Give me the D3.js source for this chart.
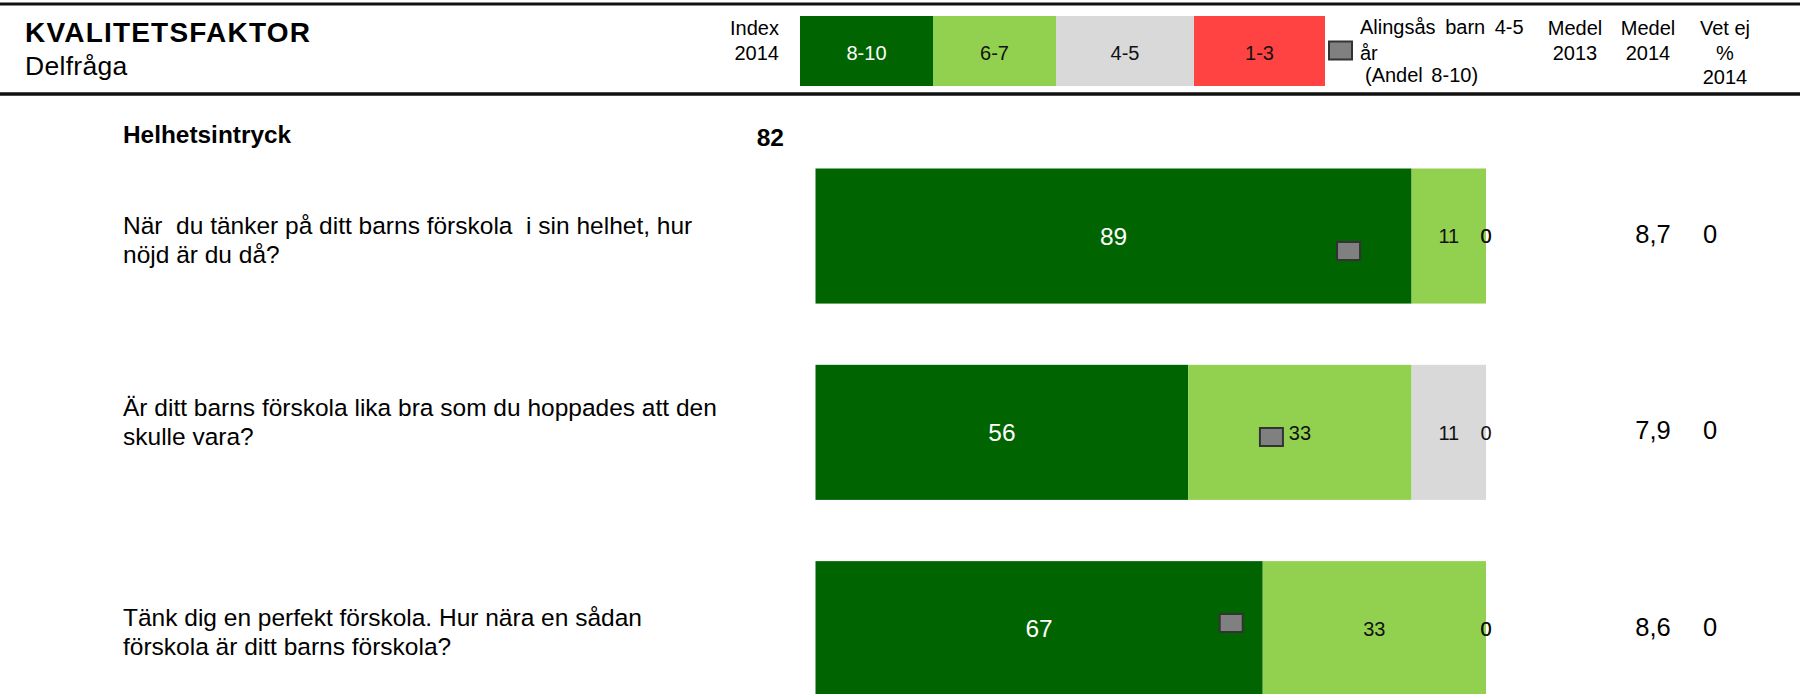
<!DOCTYPE html>
<html>
<head>
<meta charset="utf-8">
<script src="https://cdn.jsdelivr.net/npm/d3@7"></script>
<style>
  html, body { margin: 0; padding: 0; background: #fff; }
  svg text { font-family: "Liberation Sans", Arial, sans-serif; white-space: pre; }
</style>
</head>
<body>
<svg id="chart" width="1800" height="694"></svg>
<script>
// ---------- DATA ----------
const title = "KVALITETSFAKTOR";
const subtitle = "Delfråga";
const categories = ["8-10", "6-7", "4-5", "1-3"];
const categoryColors = ["#006400", "#92D050", "#D9D9D9", "#FF4343"];
const section = "Helhetsintryck";
const sectionIndex2014 = 82;
const questions = [
  ["När  du tänker på ditt barns förskola  i sin helhet, hur", "nöjd är du då?"],
  ["Är ditt barns förskola lika bra som du hoppades att den", "skulle vara?"],
  ["Tänk dig en perfekt förskola. Hur nära en sådan", "förskola är ditt barns förskola?"]
];
const share8to10 = [88.9, 55.6, 66.7];
const share6to7  = [11.1, 33.3, 33.3];
const share4to5  = [0, 11.1, 0];
const share1to3  = [0, 0, 0];
const benchmarkAlingsas = [79.5, 68, 62]; // Alingsås barn 4-5 år (Andel 8-10)
const medel2013 = ["", "", ""];
const medel2014 = ["8,7", "7,9", "8,6"];
const vetEj2014 = ["0", "0", "0"];

// ---------- LAYOUT ----------
const svg = d3.select("#chart");
const W = 1800, H = 694;
const FONT_HDR = 20;
const fmt = d3.format(".0f");

const x = d3.scaleLinear().domain([0, 100]).range([815.5, 1486]);
const y = d3.scaleBand().domain(d3.range(questions.length))
  .range([168.5, 696.2]).paddingInner(0.312).paddingOuter(0);
const yMarker = d3.scaleLinear().domain([0, questions.length - 1]).range([251, 623]);
const textNudge = [4, -10.5, 3.5];

// header rules
svg.append("line").attr("x1", 0).attr("x2", W).attr("y1", 4).attr("y2", 4)
  .attr("stroke", "#111").attr("stroke-width", 3);
svg.append("line").attr("x1", 0).attr("x2", W).attr("y1", 94).attr("y2", 94)
  .attr("stroke", "#111").attr("stroke-width", 3.5);

svg.append("text").attr("x", 25).attr("y", 42).attr("font-size", 28).attr("font-weight", "bold")
  .attr("letter-spacing", 1.2).attr("fill", "#000").text(title);
svg.append("text").attr("x", 25).attr("y", 75).attr("font-size", 26.5)
  .attr("letter-spacing", 0.3).attr("fill", "#000").text(subtitle);

// Index header
svg.append("text").attr("x", 779).attr("y", 34.5).attr("text-anchor", "end")
  .attr("font-size", FONT_HDR).text("Index");
svg.append("text").attr("x", 779).attr("y", 60).attr("text-anchor", "end")
  .attr("font-size", FONT_HDR).text("2014");

// legend boxes
const legendEdges = [800, 933, 1056, 1194, 1325];
const lg = svg.append("g");
categories.forEach((c, i) => {
  lg.append("rect").attr("x", legendEdges[i]).attr("y", 16)
    .attr("width", legendEdges[i + 1] - legendEdges[i]).attr("height", 70)
    .attr("fill", categoryColors[i]);
  lg.append("text").attr("x", (legendEdges[i] + legendEdges[i + 1]) / 2).attr("y", 60)
    .attr("text-anchor", "middle").attr("font-size", FONT_HDR)
    .attr("fill", i === 0 ? "#fff" : "#111").text(c);
});

// legend marker
const MW = 23, MH = 18;
svg.append("rect").attr("x", 1329).attr("y", 41.5).attr("width", MW).attr("height", MH)
  .attr("fill", "#808080").attr("stroke", "#333").attr("stroke-width", 2);
svg.append("text").attr("x", 1360).attr("y", 34).attr("font-size", FONT_HDR).attr("word-spacing", 4).text("Alingsås barn 4-5");
svg.append("text").attr("x", 1360).attr("y", 59.5).attr("font-size", FONT_HDR).text("år");
svg.append("text").attr("x", 1365).attr("y", 82).attr("font-size", FONT_HDR).attr("word-spacing", 3).text("(Andel 8-10)");

// column headers
const colMedel13 = 1575, colMedel14 = 1648, colVet = 1725;
[["Medel", 34.5], ["2013", 60]].forEach(([t, yy]) =>
  svg.append("text").attr("x", colMedel13).attr("y", yy).attr("text-anchor", "middle").attr("font-size", FONT_HDR).text(t));
[["Medel", 34.5], ["2014", 60]].forEach(([t, yy]) =>
  svg.append("text").attr("x", colMedel14).attr("y", yy).attr("text-anchor", "middle").attr("font-size", FONT_HDR).text(t));
[["Vet ej", 34.5], ["%", 60], ["2014", 84]].forEach(([t, yy]) =>
  svg.append("text").attr("x", colVet).attr("y", yy).attr("text-anchor", "middle").attr("font-size", FONT_HDR).text(t));

// section heading
svg.append("text").attr("x", 123).attr("y", 142.5).attr("font-size", 24.4).attr("font-weight", "bold").text(section);
svg.append("text").attr("x", 784).attr("y", 145.5).attr("text-anchor", "end").attr("font-size", 24.5)
  .attr("font-weight", "bold").text(sectionIndex2014);

// question text
questions.forEach((lines, i) => {
  const cy = y(i) + y.bandwidth() / 2 + textNudge[i];
  lines.forEach((ln, j) => {
    svg.append("text").attr("x", 123).attr("y", cy - 14.5 + j * 29 + 8.5)
      .attr("font-size", 24.5).attr("fill", "#000").text(ln);
  });
});

// stacked bars
const rows = questions.map((q, i) => ({
  i,
  "8-10": share8to10[i], "6-7": share6to7[i], "4-5": share4to5[i], "1-3": share1to3[i]
}));
const stack = d3.stack().keys(categories)(rows);
const color = d3.scaleOrdinal().domain(categories).range(categoryColors);

const gBars = svg.append("g");
stack.forEach((layer, k) => {
  gBars.selectAll(null).data(layer).join("rect")
    .attr("x", d => x(d[0]))
    .attr("y", d => y(d.data.i))
    .attr("width", d => x(d[1]) - x(d[0]))
    .attr("height", y.bandwidth())
    .attr("fill", color(layer.key));
});
// labels
stack.forEach((layer, k) => {
  gBars.selectAll(null).data(layer).join("text")
    .attr("x", d => (x(d[0]) + x(d[1])) / 2)
    .attr("y", d => y(d.data.i) + y.bandwidth() / 2 + (k === 0 ? 8.8 : 7.2))
    .attr("text-anchor", "middle")
    .attr("font-size", k === 0 ? 24.5 : 20)
    .attr("fill", k === 0 ? "#fff" : "#111")
    .text(d => fmt(d[1] - d[0]));
});

// benchmark markers
svg.append("g").selectAll("rect").data(benchmarkAlingsas).join("rect")
  .attr("x", d => x(d) - MW / 2)
  .attr("y", (d, i) => yMarker(i) - MH / 2)
  .attr("width", MW).attr("height", MH)
  .attr("fill", "#808080").attr("stroke", "#333").attr("stroke-width", 2);

// right-hand columns
questions.forEach((q, i) => {
  const cy = y(i) + y.bandwidth() / 2 - 2 + 9;
  svg.append("text").attr("x", colMedel13).attr("y", cy).attr("text-anchor", "middle").attr("font-size", 25.5).text(medel2013[i]);
  svg.append("text").attr("x", 1653).attr("y", cy).attr("text-anchor", "middle").attr("font-size", 25.5).text(medel2014[i]);
  svg.append("text").attr("x", 1710).attr("y", cy).attr("text-anchor", "middle").attr("font-size", 25.5).text(vetEj2014[i]);
});
</script>
</body>
</html>
